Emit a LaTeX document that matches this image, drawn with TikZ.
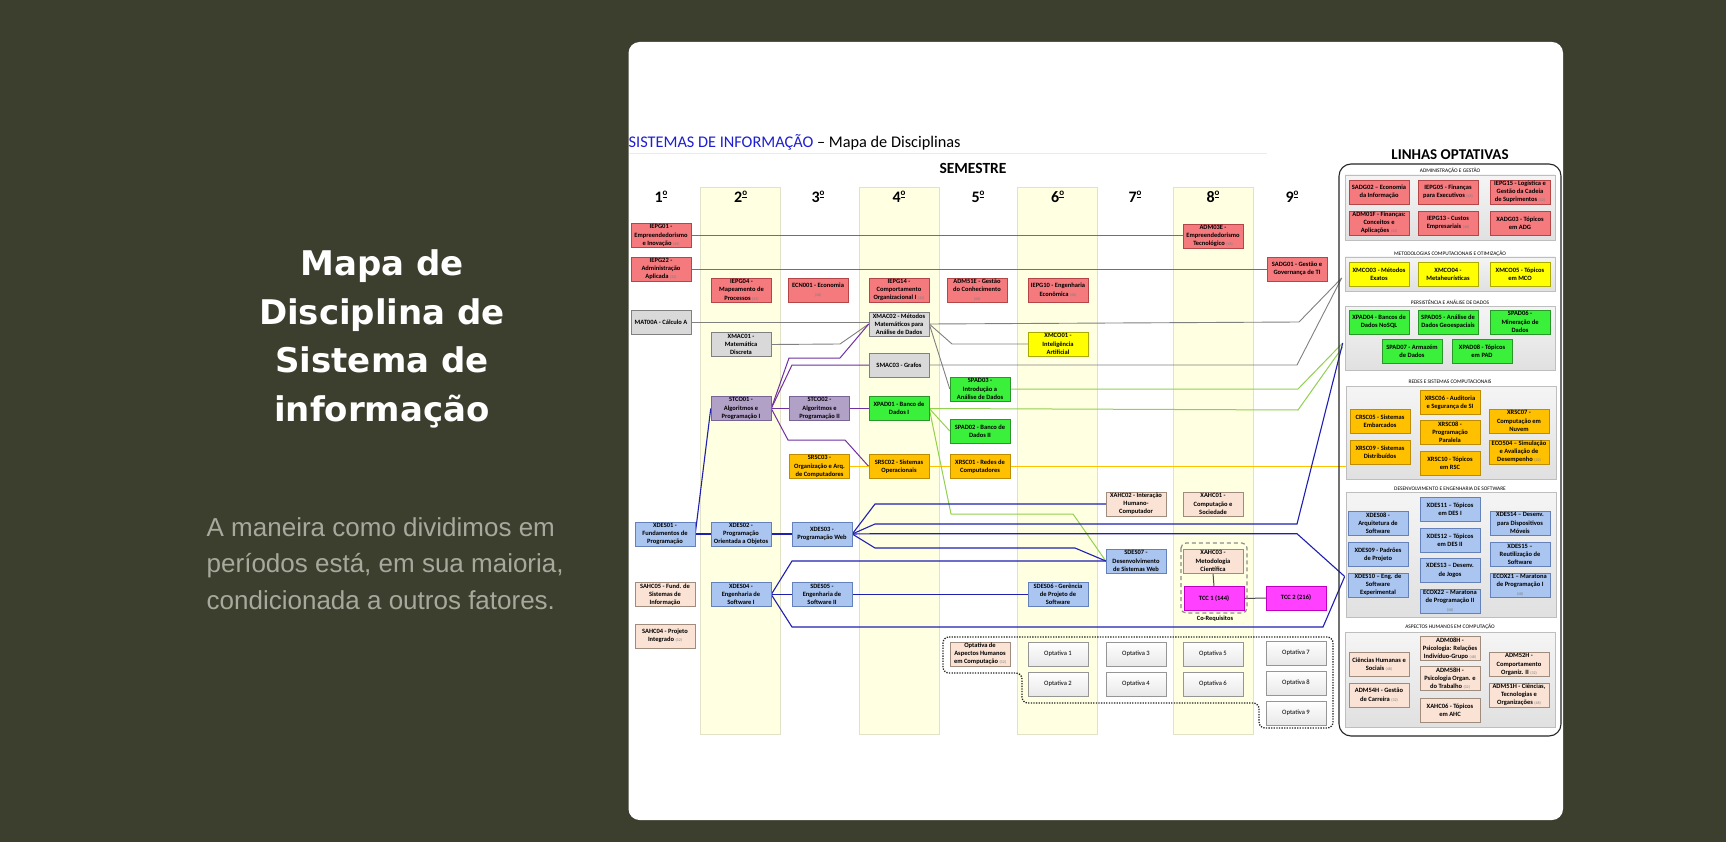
\documentclass[tikz,border=0pt]{standalone}
\usepackage{fontspec}
\setmainfont{Carlito}
\newfontfamily\titlefont{DejaVu Sans}
\newfontfamily\bodyfont{Liberation Sans}
\usetikzlibrary{calc,shadows}
\pgfdeclarelayer{bottom}\pgfdeclarelayer{lines}
\pgfsetlayers{bottom,lines,main}
\definecolor{bgc}{RGB}{60,63,46}
\definecolor{bodyc}{RGB}{168,169,156}
\definecolor{ttlblue}{RGB}{30,30,210}
\definecolor{colband}{RGB}{255,255,226}
\definecolor{colbandd}{RGB}{226,226,200}
\definecolor{cred}{RGB}{244,122,126}\definecolor{credd}{RGB}{180,70,72}
\definecolor{cgray}{RGB}{217,217,217}\definecolor{cgrayd}{RGB}{128,128,128}
\definecolor{cyel}{RGB}{255,255,0}\definecolor{cyeld}{RGB}{170,170,0}
\definecolor{cgrn}{RGB}{58,240,58}\definecolor{cgrnd}{RGB}{40,150,40}
\definecolor{cpur}{RGB}{178,161,199}\definecolor{cpurd}{RGB}{120,100,150}
\definecolor{camb}{RGB}{255,192,0}\definecolor{cambd}{RGB}{190,140,0}
\definecolor{cblu}{RGB}{170,197,240}\definecolor{cblud}{RGB}{100,130,185}
\definecolor{cpea}{RGB}{250,226,212}\definecolor{cpead}{RGB}{160,140,125}
\definecolor{cmag}{RGB}{255,64,255}\definecolor{cmagd}{RGB}{190,0,190}
\definecolor{copt}{RGB}{244,244,244}\definecolor{coptd}{RGB}{150,150,150}
\definecolor{grpf}{RGB}{236,236,236}\definecolor{grpd}{RGB}{190,190,190}
\definecolor{lred}{RGB}{212,70,74}
\definecolor{lgray}{RGB}{128,128,128}
\definecolor{lpur}{RGB}{112,48,160}
\definecolor{lgrn}{RGB}{146,208,80}
\definecolor{lamb}{RGB}{255,192,0}
\definecolor{lblu}{RGB}{32,32,176}
\newcommand\bxf{\fontsize{6.5}{8.2}\selectfont\bfseries}
\newcommand\ch[1]{{\fontsize{4}{4}\selectfont\mdseries\color{black!50}(#1)}}
\newcommand\glf{\fontsize{5.4}{6}\selectfont}
\newcommand\ordo{\raisebox{0.42em}{\fontsize{9}{9}\selectfont\underline{o}}}
\tikzset{
  bx/.style={draw, line width=0.5pt, minimum width=60pt, minimum height=24pt, inner sep=0pt, align=center, font=\bxf,
    drop shadow={shadow xshift=0.9pt, shadow yshift=-0.9pt, opacity=0.22, fill=black}},
  rbox/.style={bx, fill=cred, draw=credd},
  gbox/.style={bx, fill=cgray, draw=cgrayd},
  ybox/.style={bx, fill=cyel, draw=cyeld},
  grbox/.style={bx, fill=cgrn, draw=cgrnd},
  pbox/.style={bx, fill=cpur, draw=cpurd},
  abox/.style={bx, fill=camb, draw=cambd},
  bbox/.style={bx, fill=cblu, draw=cblud},
  hbox/.style={bx, fill=cpea, draw=cpead},
  mbox/.style={bx, fill=cmag, draw=cmagd},
  obox/.style={bx, top color=white, bottom color=black!9, draw=coptd, font=\fontsize{6.6}{8}\selectfont},
  grp/.style={draw=grpd, top color=black!4, bottom color=black!12, line width=0.6pt, inner sep=0pt, minimum width=210pt},
  glabel/.style={font=\glf, inner sep=0pt},
  sem/.style={font=\fontsize{16}{16}\selectfont\bfseries, inner sep=0pt},
  ln/.style={line width=0.9pt},
  redln/.style={ln, draw=lred},
  grayln/.style={ln, draw=lgray},
  purln/.style={ln, draw=lpur, line width=1pt},
  grnln/.style={ln, draw=lgrn, line width=1pt},
  ambln/.style={ln, draw=lamb, line width=1pt},
  bluln/.style={ln, draw=lblu, line width=1.1pt},
  band/.style={fill=colband, draw=colbandd, line width=0.6pt},
}
\begin{document}
\begin{tikzpicture}[x=1pt,y=-1pt]
\useasboundingbox (0,0) rectangle (1726,842);
\begin{pgfonlayer}{bottom}
\fill[bgc] (0,0) rectangle (1726,842);
\fill[white, rounded corners=11pt] (628.5,42) rectangle (1563,820);
\draw[black!8, line width=0.8pt] (628.5,153) -- (1267,153);
\foreach \c in {740.7,899,1057.7,1213}{\draw[band] (\c-40,187) rectangle (\c+40,734);}
\end{pgfonlayer}
% left text
\node[text=white, font=\titlefont\bfseries\fontsize{34}{48.7}\selectfont, align=center, anchor=north] (ttl) at (382,246) {Mapa de\\Disciplina de\\Sistema de\\informação};
\node[text=bodyc, font=\bodyfont\fontsize{26}{36.7}\selectfont, align=left, anchor=north west, inner sep=0pt] (body) at (206.5,517) {A maneira como dividimos em\\períodos está, em sua maioria,\\condicionada a outros fatores.};
% title
\node[anchor=west, inner sep=0pt, font=\fontsize{16.3}{16}\selectfont] (title) at (628.5,142) {\textcolor{ttlblue}{SISTEMAS DE INFORMAÇÃO} – Mapa de Disciplinas};
\node[font=\fontsize{15.5}{15}\selectfont\bfseries, inner sep=0pt] (semestre) at (973,168) {SEMESTRE};
% semester numbers
\foreach \c/\n in {661/1,740.7/2,818/3,899/4,978/5,1057.7/6,1135/7,1213/8,1292/9}{\node[sem] (s\n) at (\c,197) {\n\ordo};}
% right panel
\node[font=\fontsize{15}{15}\selectfont\bfseries, inner sep=0pt] (linhas) at (1450,155) {LINHAS OPTATIVAS};
\draw[black!85, line width=1.1pt, rounded corners=12pt] (1339,164) rectangle (1561,736);
\node[grp, minimum height=65pt] (gADM) at (1450,207.5) {};
\node[grp, minimum height=34pt] (gMCO) at (1450,274) {};
\node[grp, minimum height=64pt] (gPAD) at (1450,338) {};
\node[grp, minimum height=93pt] (gRSC) at (1451,432.5) {};
\node[grp, minimum height=125pt] (gDES) at (1451,554.5) {};
\node[grp, minimum height=95pt] (gAHC) at (1450,679.5) {};
\node[glabel] (lADM) at (1450,171) {ADMINISTRAÇÃO E GESTÃO};
\node[glabel] (lMCO) at (1450,253.5) {METODOLOGIAS COMPUTACIONAIS E OTIMIZAÇÃO};
\node[glabel] (lPAD) at (1450,302) {PERSISTÊNCIA E ANÁLISE DE DADOS};
\node[glabel] (lRSC) at (1450,382) {REDES E SISTEMAS COMPUTACIONAIS};
\node[glabel] (lDES) at (1450,489) {DESENVOLVIMENTO E ENGENHARIA DE SOFTWARE};
\node[glabel] (lAHC) at (1450,627) {ASPECTOS HUMANOS EM COMPUTAÇÃO};
\coordinate (pMCO) at ($(gMCO.west)+(-3,4)$);
\coordinate (pPAD) at ($(gPAD.west)+(-2,5)$);
\coordinate (pDES) at ($(gDES.west)+(-1,22)$);
% semester boxes
\node[rbox] (IEPG01) at (661,235.5) {IEPG01 -\\Empreendedorismo\\e Inovação \ch{48}};
\node[rbox] (IEPG22) at (661,269) {IEPG22 -\\Administração\\Aplicada \ch{32}};
\node[gbox] (MAT00A) at (661,322) {MAT00A - Cálculo A};
\node[bbox] (XDES01) at (665,534) {XDES01 -\\Fundamentos de\\Programação};
\node[hbox] (SAHC05) at (665,594.5) {SAHC05 - Fund. de\\Sistemas de\\Informação};
\node[hbox] (SAHC04) at (665,636) {SAHC04 - Projeto\\Integrado \ch{32}};
\node[rbox] (IEPG04) at (741.5,290) {IEPG04 -\\Mapeamento de\\Processos \ch{32}};
\node[gbox] (XMAC01) at (741,344.5) {XMAC01 -\\Matemática\\Discreta};
\node[pbox] (STCO01) at (741,408.5) {STCO01 -\\Algoritmos e\\Programação I};
\node[bbox] (XDES02) at (741,534) {XDES02 -\\Programação\\Orientada a Objetos};
\node[bbox] (XDES04) at (741,594.5) {XDES04 -\\Engenharia de\\Software I};
\node[rbox] (ECN001) at (818,290) {ECN001 - Economia\\\ch{48}};
\node[pbox] (STCO02) at (819.5,408.5) {STCO02 -\\Algoritmos e\\Programação II};
\node[abox] (SRSC03) at (819.5,466.5) {SRSC03 -\\Organização e Arq.\\de Computadores};
\node[bbox] (XDES03) at (822,534) {XDES03 -\\Programação Web};
\node[bbox] (SDES05) at (822,594.5) {SDES05 -\\Engenharia de\\Software II};
\node[rbox] (IEPG14) at (899,290) {IEPG14 -\\Comportamento\\Organizacional I \ch{32}};
\node[gbox] (XMAC02) at (899,324) {XMAC02 - Métodos\\Matemáticos para\\Análise de Dados};
\node[gbox] (SMAC03) at (899,365) {SMAC03 - Grafos};
\node[grbox] (XPAD01) at (899,408.5) {XPAD01 - Banco de\\Dados I};
\node[abox] (SRSC02) at (899,466.5) {SRSC02 - Sistemas\\Operacionais};
\node[rbox] (ADM51E) at (977,290) {ADM51E - Gestão\\do Conhecimento\\\ch{48}};
\node[grbox] (SPAD03) at (980,389) {SPAD03 -\\Introdução a\\Análise de Dados};
\node[grbox] (SPAD02) at (980,431) {SPAD02 - Banco de\\Dados II};
\node[abox] (XRSC01) at (980,466.5) {XRSC01 - Redes de\\Computadores};
\node[hbox] (OptAHC) at (980,654) {Optativa de\\Aspectos Humanos\\em Computação \ch{32}};
\node[rbox] (IEPG10) at (1058,290) {IEPG10 - Engenharia\\Econômica \ch{48}};
\node[ybox] (XMCO01) at (1058,344) {XMCO01 -\\Inteligência\\Artificial};
\node[bbox] (SDES06) at (1058,594.5) {SDES06 - Gerência\\de Projeto de\\Software};
\node[hbox] (XAHC02) at (1136,504) {XAHC02 - Interação\\Humano-\\Computador};
\node[bbox] (SDES07) at (1136,561) {SDES07 -\\Desenvolvimento\\de Sistemas Web};
\node[rbox] (ADM03E) at (1213,236) {ADM03E -\\Empreendedorismo\\Tecnológico \ch{48}};
\node[hbox] (XAHC01) at (1213,504) {XAHC01 -\\Computação e\\Sociedade};
\node[hbox] (XAHC03) at (1213,561) {XAHC03 -\\Metodologia\\Científica};
\node[mbox] (TCC1) at (1214,598.5) {TCC 1 (144)};
\node[rbox] (SADG01) at (1297,269) {SADG01 - Gestão e\\Governança de TI};
\node[mbox] (TCC2) at (1296,598) {TCC 2 (216)};
% optativas
\node[obox] (Opt1) at (1058,654) {Optativa 1};
\node[obox] (Opt2) at (1058,684) {Optativa 2};
\node[obox] (Opt3) at (1136,654) {Optativa 3};
\node[obox] (Opt4) at (1136,684) {Optativa 4};
\node[obox] (Opt5) at (1213,654) {Optativa 5};
\node[obox] (Opt6) at (1213,684) {Optativa 6};
\node[obox] (Opt7) at (1296,653) {Optativa 7};
\node[obox] (Opt8) at (1296,683) {Optativa 8};
\node[obox] (Opt9) at (1296,713) {Optativa 9};
% co-requisitos
\draw[black!45, line width=1.2pt, dash pattern=on 4pt off 3pt, rounded corners=5pt] (1181,543) rectangle (1247,613);
\node[font=\fontsize{6.4}{7}\selectfont\bfseries, inner sep=0pt] (coreq) at (1215,619) {Co-Requisitos};
\draw[black!85, line width=1.3pt, dash pattern=on 1.3pt off 1.3pt, rounded corners=6pt]
  (943,637) -- (1333,637) -- (1333,728) -- (1259,728) -- (1259,703) -- (1022,703) -- (1022,673) -- (943,673) -- cycle;
% right panel boxes
\node[rbox] (SADG02) at (1379,192) {SADG02 – Economia\\da Informação};
\node[rbox] (IEPG05) at (1448,192) {IEPG05 - Finanças\\para Executivos \ch{48}};
\node[rbox] (IEPG15) at (1520,192) {IEPG15 - Logística e\\Gestão da Cadeia\\de Suprimentos \ch{32}};
\node[rbox] (ADM01F) at (1379,223) {ADM01F - Finanças:\\Conceitos e\\Aplicações \ch{32}};
\node[rbox] (IEPG13) at (1448,223) {IEPG13 - Custos\\Empresariais \ch{48}};
\node[rbox] (XADG03) at (1520,223) {XADG03 - Tópicos\\em ADG};
\node[ybox] (XMCO03) at (1379,274) {XMCO03 - Métodos\\Exatos};
\node[ybox] (XMCO04) at (1448,274) {XMCO04 -\\Metaheurísticas};
\node[ybox] (XMCO05) at (1520,274) {XMCO05 - Tópicos\\em MCO};
\node[grbox] (XPAD04) at (1379,322) {XPAD04 - Bancos de\\Dados NoSQL};
\node[grbox] (SPAD05) at (1448,322) {SPAD05 - Análise de\\Dados Geoespaciais};
\node[grbox] (SPAD06) at (1520,322) {SPAD06 -\\Mineração de\\Dados};
\node[grbox] (SPAD07) at (1412,351) {SPAD07 - Armazém\\de Dados};
\node[grbox] (XPAD08) at (1482,351) {XPAD08 - Tópicos\\em PAD};
\node[abox] (XRSC06) at (1450,402.5) {XRSC06 - Auditoria\\e Segurança de SI};
\node[abox] (CRSC05) at (1380,421) {CRSC05 - Sistemas\\Embarcados};
\node[abox] (XRSC07) at (1519,421) {XRSC07 -\\Computação em\\Nuvem};
\node[abox] (XRSC08) at (1450,432.5) {XRSC08 -\\Programação\\Paralela};
\node[abox] (XRSC09) at (1380,452) {XRSC09 - Sistemas\\Distribuídos};
\node[abox] (ECO504) at (1519,452) {ECO504 – Simulação\\e Avaliação de\\Desempenho \ch{32}};
\node[abox] (XRSC10) at (1450,463) {XRSC10 - Tópicos\\em RSC};
\node[bbox] (XDES11) at (1450,509) {XDES11 – Tópicos\\em DES I};
\node[bbox] (XDES08) at (1378,523) {XDES08 -\\Arquitetura de\\Software};
\node[bbox] (XDES14) at (1520,523) {XDES14 – Desenv.\\para Dispositivos\\Móveis};
\node[bbox] (XDES12) at (1450,540) {XDES12 – Tópicos\\em DES II};
\node[bbox] (XDES09) at (1378,554.5) {XDES09 - Padrões\\de Projeto};
\node[bbox] (XDES15) at (1520,554.5) {XDES15 –\\Reutilização de\\Software};
\node[bbox] (XDES13) at (1450,570.5) {XDES13 – Desenv.\\de Jogos};
\node[bbox] (XDES10) at (1378,585) {XDES10 – Eng. de\\Software\\Experimental};
\node[bbox] (ECOX21) at (1520,585) {ECOX21 – Maratona\\de Programação I\\\ch{48}};
\node[bbox] (ECOX22) at (1450,601) {ECOX22 – Maratona\\de Programação II\\\ch{48}};
\node[hbox] (ADM08H) at (1450,648.5) {ADM08H -\\Psicologia: Relações\\Indivíduo-Grupo \ch{48}};
\node[hbox] (CHS) at (1379,664.5) {Ciências Humanas e\\Sociais \ch{48}};
\node[hbox] (ADM52H) at (1519,664.5) {ADM52H -\\Comportamento\\Organiz. II \ch{32}};
\node[hbox] (ADM58H) at (1450,678.5) {ADM58H -\\Psicologia Organ. e\\do Trabalho \ch{32}};
\node[hbox] (ADM54H) at (1379,695) {ADM54H - Gestão\\de Carreira \ch{32}};
\node[hbox] (ADM51H) at (1519,695) {ADM51H - Ciências,\\Tecnologias e\\Organizações \ch{48}};
\node[hbox] (XAHC06) at (1450,710.5) {XAHC06 - Tópicos\\em AHC};
% ---- connectors (under the boxes)
\begin{pgfonlayer}{lines}
\draw[redln] (IEPG01.east) -- (IEPG01.east -| ADM03E.west);
\draw[redln] (IEPG22.east) -- (IEPG22.east -| SADG01.west);
\draw[grayln] (MAT00A.east) -- (MAT00A.east -| XMAC02.west);
\draw[grayln] (XMAC02.east) -- (1299,322) -- (pMCO);
\draw[grayln] (XMAC01.east) -- (840,344) -- (XMAC02.west);
\draw[grayln] (XMAC02.east) -- (952,344) -- (XMCO01.west);
\draw[grayln] (XMAC02.east) -- (SPAD03.west);
\draw[grayln] (SMAC03.east) -- (1297,365) -- (pMCO);
\draw[purln] (STCO01.east) -- (789,358) -- (840,358) -- (XMAC02.west);
\draw[purln] (STCO01.east) -- (792,365) -- (SMAC03.west);
\draw[purln] (STCO01.east) -- (STCO02.west);
\draw[purln] (STCO02.east) -- (XPAD01.west);
\draw[purln] (STCO01.east) -- (788,440) -- (845,440) -- (SRSC02.west);
\draw[ambln] (SRSC03.east) -- (SRSC02.west);
\draw[ambln] (SRSC02.east) -- (XRSC01.west);
\draw[ambln] (XRSC01.east) -- (XRSC01.east -| gRSC.west);
\draw[grnln] (SPAD03.east) -- (1298,389) -- (pPAD);
\draw[grnln] (XPAD01.east) -- (1298,410) -- ($(pPAD)+(0,4)$);
\draw[grnln] (XPAD01.east) -- (SPAD02.west);
\draw[grnln] (XPAD01.east) -- (951,514) -- (1073,514) -- (SDES07.west);
\draw[bluln] (XDES01.east) -- (STCO01.west);
\draw[bluln] (XDES01.east) -- (XDES02.west);
\draw[bluln] (XDES02.east) -- (XDES03.west);
\draw[bluln] (XDES03.east) -- (875,504) -- (XAHC02.west);
\draw[bluln] (XDES03.east) -- (875,524) -- (1297,524) -- (pPAD);
\draw[bluln] (XDES03.east) -- (878,533.7) -- (1297,533.7) -- (pDES);
\draw[bluln] (XDES03.east) -- (875,548) -- (1075,548) -- (SDES07.west);
\draw[bluln] (XDES04.east) -- (792,561) -- (SDES07.west);
\draw[bluln] (XDES04.east) -- (SDES05.west);
\draw[bluln] (SDES05.east) -- (SDES06.west);
\draw[bluln] (XDES04.east) -- (792,627) -- (1323,627) -- (pDES);
\draw[black!70, line width=1pt] (XAHC03.south) -- (TCC1.north);
\draw[black!70, line width=1pt] (TCC1.east) -- (TCC2.west);
\end{pgfonlayer}
\end{tikzpicture}
\end{document}
